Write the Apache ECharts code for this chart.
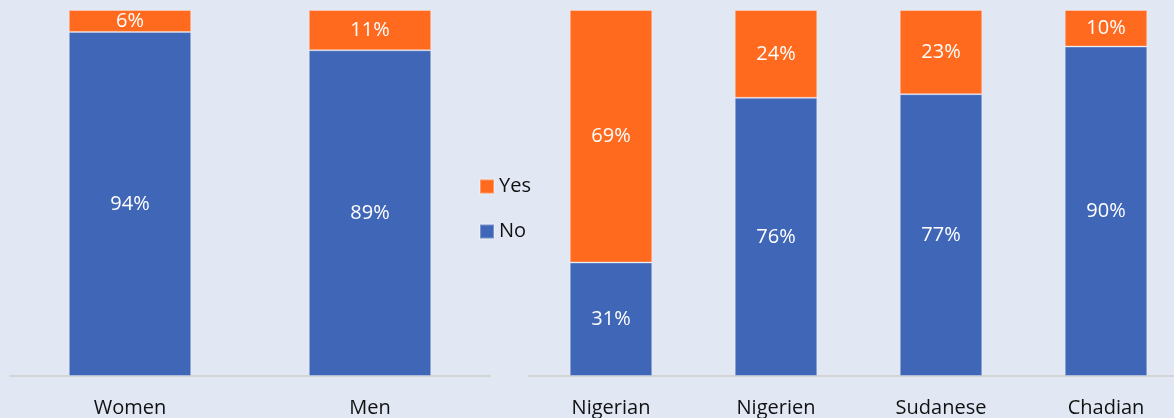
<!DOCTYPE html>
<html><head><meta charset="utf-8">
<script src="https://cdn.jsdelivr.net/npm/echarts@6/dist/echarts.min.js"></script>
<style>html,body{margin:0;padding:0;background:#e1e8f4}#c{width:1174px;height:418px}</style>
</head><body><div id="c"></div>
<script>
const genderCats = ['Women', 'Men'];
const genderNo = [94, 89];
const genderYes = [6, 11];
const natCats = ['Nigerian', 'Nigerien', 'Sudanese', 'Chadian'];
const natNo = [31, 76, 77, 90];
const natYes = [69, 24, 23, 10];

const BLUE = '#4066b8', ORANGE = '#ff6a1f';
const FONT = '"Open Sans", Lato, sans-serif';
const lbl = {show: true, position: 'inside', color: '#ffffff', fontSize: 20, fontFamily: FONT, formatter: p => p.value + '%'};
const item = c => ({color: c, borderColor: 'rgba(255,255,255,0.3)', borderWidth: 1});

const chart = echarts.init(document.getElementById('c'));
const xAx = (i, cats) => ({
  type: 'category', gridIndex: i, data: cats,
  axisLine: {lineStyle: {color: '#d4d4d4', width: 2}},
  axisTick: {show: false},
  axisLabel: {color: '#111', fontSize: 20, fontFamily: FONT, margin: 22}
});
const yAx = i => ({type: 'value', gridIndex: i, min: 0, max: 100, show: false});
chart.setOption({
  backgroundColor: '#e1e8f4',
  animation: false,
  grid: [
    {left: 10, width: 480, top: 10, bottom: 42, outerBoundsMode: 'none', containLabel: false},
    {left: 528.5, width: 660, top: 10, bottom: 42, outerBoundsMode: 'none', containLabel: false}
  ],
  legend: {
    orient: 'vertical', left: 474, top: 171,
    data: [{name: 'Yes'}, {name: 'No'}],
    itemWidth: 14, itemHeight: 14, itemGap: 24,
    icon: 'rect',
    textStyle: {color: '#111', fontSize: 20, fontFamily: FONT, lineHeight: 21}
  },
  xAxis: [xAx(0, genderCats), xAx(1, natCats)],
  yAxis: [yAx(0), yAx(1)],
  series: [
    {name: 'No', type: 'bar', stack: 'g', xAxisIndex: 0, yAxisIndex: 0, data: genderNo, barWidth: '51%', itemStyle: item(BLUE), label: lbl},
    {name: 'Yes', type: 'bar', stack: 'g', xAxisIndex: 0, yAxisIndex: 0, data: genderYes, barWidth: '51%', itemStyle: item(ORANGE), label: lbl},
    {name: 'No', type: 'bar', stack: 'n', xAxisIndex: 1, yAxisIndex: 1, data: natNo, barWidth: '50%', itemStyle: item(BLUE), label: lbl},
    {name: 'Yes', type: 'bar', stack: 'n', xAxisIndex: 1, yAxisIndex: 1, data: natYes, barWidth: '50%', itemStyle: item(ORANGE), label: lbl}
  ]
});
</script></body></html>
